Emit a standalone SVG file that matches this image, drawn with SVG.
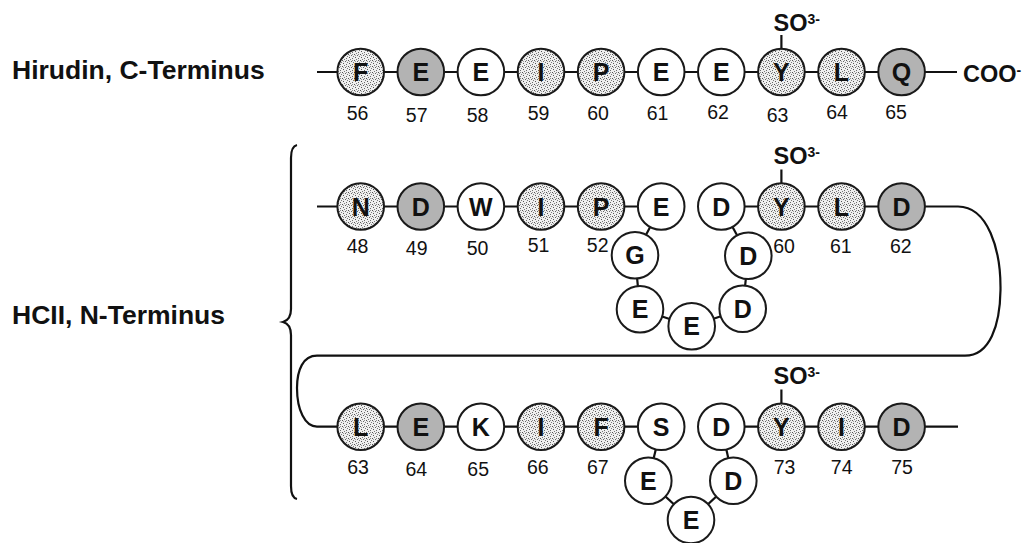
<svg xmlns="http://www.w3.org/2000/svg" width="1034" height="543" viewBox="0 0 1034 543">
  <defs>
    <!-- stippled fill for hydrophobic residues -->
    <pattern id="stipple" width="6" height="6" patternUnits="userSpaceOnUse">
      <rect width="6" height="6" fill="#efefef"/>
      <rect x="0" y="0" width="1" height="1" fill="#555"/>
      <rect x="3" y="1" width="1" height="1" fill="#666"/>
      <rect x="1" y="3" width="1" height="1" fill="#555"/>
      <rect x="4" y="4" width="1" height="1" fill="#6a6a6a"/>
      <rect x="5" y="2" width="1" height="1" fill="#7a7a7a"/>
      <rect x="2" y="5" width="1" height="1" fill="#7a7a7a"/>
      <rect x="4" y="0" width="1" height="1" fill="#909090"/>
      <rect x="1" y="1" width="1" height="1" fill="#a0a0a0"/>
    </pattern>
    <style>
      .res { stroke: #1a1a1a; stroke-width: 2; }
      .plain { fill: #ffffff; }
      .dots { fill: url(#stipple); }
      .acid { fill: #b3b3b3; }
      .aa { font-family: "Liberation Sans", Arial, sans-serif; font-weight: bold; font-size: 25px; fill: #111; text-anchor: middle; }
      .num { font-family: "Liberation Sans", Arial, sans-serif; font-size: 19.5px; fill: #111; text-anchor: middle; }
      .lbl { font-family: "Liberation Sans", Arial, sans-serif; font-weight: bold; font-size: 26.5px; fill: #111; }
      .grp { font-family: "Liberation Sans", Arial, sans-serif; font-weight: bold; font-size: 23.5px; fill: #111; }
      .sup { font-size: 14px; }
      .bond { stroke: #111; stroke-width: 2.2; fill: none; }
    </style>
  </defs>
  <rect width="1034" height="543" fill="#ffffff"/>

  <!-- side labels -->
  <text class="lbl" x="12" y="79">Hirudin, C-Terminus</text>
  <text class="lbl" x="12" y="324">HCII, N-Terminus</text>

  <!-- brace grouping the HCII segment -->
  <path class="bond" d="M297,145 C292.5,146 291,150 291,158 L291,309 C291,317 288.5,320.5 283,322 C288.5,323.5 291,327 291,335 L291,486 C291,494 292.5,498 297,499"/>

  <!-- connectors -->
  <g id="connectors" class="bond">
    <!-- Hirudin chain -->
    <line x1="317" y1="72" x2="901.6" y2="72"/>
    <line x1="901.6" y1="72" x2="957" y2="72"/>
    <line x1="781.4" y1="48" x2="781.4" y2="35"/>
    <!-- HCII upper chain -->
    <line x1="317" y1="206.5" x2="661.2" y2="206.5"/>
    <line x1="721.3" y1="206.5" x2="901.6" y2="206.5"/>
    <line x1="661.2" y1="206.5" x2="635" y2="255.3"/>
    <line x1="635" y1="255.3" x2="640" y2="309.3"/>
    <line x1="640" y1="309.3" x2="691.7" y2="326.3"/>
    <line x1="691.7" y1="326.3" x2="742.7" y2="308.7"/>
    <line x1="742.7" y1="308.7" x2="748.3" y2="255.7"/>
    <line x1="748.3" y1="255.7" x2="721.3" y2="206.5"/>
    <line x1="781.4" y1="183" x2="781.4" y2="169.5"/>
    <!-- turn between the two HCII rows -->
    <path d="M901.6,206.5 L958,206.5 C988,206.5 1001,250 1000.5,290 C1000,325 990,355.7 965,355.7 L317,355.7 C303,355.7 297,370 297,388 C297,410 305,426.7 317,426.7"/>
    <!-- HCII lower chain -->
    <line x1="317" y1="426.7" x2="661.2" y2="426.7"/>
    <line x1="721.3" y1="426.7" x2="958" y2="426.7"/>
    <line x1="661.2" y1="426.7" x2="648.3" y2="480.7"/>
    <line x1="648.3" y1="480.7" x2="691" y2="520"/>
    <line x1="691" y1="520" x2="733.3" y2="480.7"/>
    <line x1="733.3" y1="480.7" x2="721.3" y2="426.7"/>
    <line x1="781.4" y1="403.3" x2="781.4" y2="389.5"/>
  </g>

  <!-- sulfate and carboxylate groups -->
  <text class="grp" x="773.5" y="31">SO<tspan class="sup" dy="-7">3-</tspan></text>
  <text class="grp" x="773.5" y="163.5">SO<tspan class="sup" dy="-7">3-</tspan></text>
  <text class="grp" x="773.5" y="383.5">SO<tspan class="sup" dy="-7">3-</tspan></text>
  <text class="grp" x="963" y="81.7">COO<tspan class="sup" dy="-7">-</tspan></text>

  <!-- Hirudin residues 56-65 -->
  <g id="h56"><circle class="res dots" cx="360.7" cy="72" r="23.3"/><text class="aa" x="360.7" y="81">F</text><text class="num" x="357.5" y="120">56</text></g>
  <g id="h57"><circle class="res acid" cx="420.8" cy="72" r="23.3"/><text class="aa" x="420.8" y="81">E</text><text class="num" x="416.7" y="122">57</text></g>
  <g id="h58"><circle class="res plain" cx="480.9" cy="72" r="23.3"/><text class="aa" x="480.9" y="81">E</text><text class="num" x="477.5" y="122">58</text></g>
  <g id="h59"><circle class="res dots" cx="541" cy="72" r="23.3"/><text class="aa" x="541" y="81">I</text><text class="num" x="538.5" y="119.5">59</text></g>
  <g id="h60"><circle class="res dots" cx="601.1" cy="72" r="23.3"/><text class="aa" x="601.1" y="81">P</text><text class="num" x="598" y="120">60</text></g>
  <g id="h61"><circle class="res plain" cx="661.2" cy="72" r="23.3"/><text class="aa" x="661.2" y="81">E</text><text class="num" x="657.5" y="120">61</text></g>
  <g id="h62"><circle class="res plain" cx="721.3" cy="72" r="23.3"/><text class="aa" x="721.3" y="81">E</text><text class="num" x="718" y="118.5">62</text></g>
  <g id="h63"><circle class="res dots" cx="781.4" cy="72" r="23.3"/><text class="aa" x="781.4" y="81">Y</text><text class="num" x="777.5" y="122">63</text></g>
  <g id="h64"><circle class="res dots" cx="841.5" cy="72" r="23.3"/><text class="aa" x="841.5" y="81">L</text><text class="num" x="837" y="118.5">64</text></g>
  <g id="h65"><circle class="res acid" cx="901.6" cy="72" r="23.3"/><text class="aa" x="901.6" y="81">Q</text><text class="num" x="896" y="118.5">65</text></g>

  <!-- HCII residues 48-62 -->
  <g id="c48"><circle class="res dots" cx="360.7" cy="206.5" r="23.3"/><text class="aa" x="360.7" y="215.5">N</text><text class="num" x="357.5" y="253">48</text></g>
  <g id="c49"><circle class="res acid" cx="420.8" cy="206.5" r="23.3"/><text class="aa" x="420.8" y="215.5">D</text><text class="num" x="416.7" y="254.5">49</text></g>
  <g id="c50"><circle class="res plain" cx="480.9" cy="206.5" r="23.3"/><text class="aa" x="480.9" y="215.5">W</text><text class="num" x="477.5" y="254.5">50</text></g>
  <g id="c51"><circle class="res dots" cx="541" cy="206.5" r="23.3"/><text class="aa" x="541" y="215.5">I</text><text class="num" x="538.5" y="252">51</text></g>
  <g id="c52"><circle class="res dots" cx="601.1" cy="206.5" r="23.3"/><text class="aa" x="601.1" y="215.5">P</text><text class="num" x="597.7" y="252">52</text></g>
  <g id="c53"><circle class="res plain" cx="661.2" cy="206.5" r="23.3"/><text class="aa" x="661.2" y="215.5">E</text></g>
  <g id="c54"><circle class="res plain" cx="635" cy="255.3" r="23.3"/><text class="aa" x="635" y="264.3">G</text></g>
  <g id="c55"><circle class="res plain" cx="640" cy="309.3" r="23.3"/><text class="aa" x="640" y="318.3">E</text></g>
  <g id="c56"><circle class="res plain" cx="691.7" cy="326.3" r="23.3"/><text class="aa" x="691.7" y="335.3">E</text></g>
  <g id="c57"><circle class="res plain" cx="742.7" cy="308.7" r="23.3"/><text class="aa" x="742.7" y="317.7">D</text></g>
  <g id="c58"><circle class="res plain" cx="748.3" cy="255.7" r="23.3"/><text class="aa" x="748.3" y="264.7">D</text></g>
  <g id="c59"><circle class="res plain" cx="721.3" cy="206.5" r="23.3"/><text class="aa" x="721.3" y="215.5">D</text></g>
  <g id="c60"><circle class="res dots" cx="781.4" cy="206.5" r="23.3"/><text class="aa" x="781.4" y="215.5">Y</text><text class="num" x="784" y="252.7">60</text></g>
  <g id="c61"><circle class="res dots" cx="841.5" cy="206.5" r="23.3"/><text class="aa" x="841.5" y="215.5">L</text><text class="num" x="840.8" y="252.7">61</text></g>
  <g id="c62"><circle class="res acid" cx="901.6" cy="206.5" r="23.3"/><text class="aa" x="901.6" y="215.5">D</text><text class="num" x="900.8" y="252.7">62</text></g>

  <!-- HCII residues 63-75 -->
  <g id="c63"><circle class="res dots" cx="360.7" cy="426.7" r="23.3"/><text class="aa" x="360.7" y="435.7">L</text><text class="num" x="358" y="474">63</text></g>
  <g id="c64"><circle class="res acid" cx="420.8" cy="426.7" r="23.3"/><text class="aa" x="420.8" y="435.7">E</text><text class="num" x="416.3" y="476">64</text></g>
  <g id="c65"><circle class="res plain" cx="480.9" cy="426.7" r="23.3"/><text class="aa" x="480.9" y="435.7">K</text><text class="num" x="478.2" y="476">65</text></g>
  <g id="c66"><circle class="res dots" cx="541" cy="426.7" r="23.3"/><text class="aa" x="541" y="435.7">I</text><text class="num" x="537.8" y="474">66</text></g>
  <g id="c67"><circle class="res dots" cx="601.1" cy="426.7" r="23.3"/><text class="aa" x="601.1" y="435.7">F</text><text class="num" x="597.8" y="474">67</text></g>
  <g id="c68"><circle class="res plain" cx="661.2" cy="426.7" r="23.3"/><text class="aa" x="661.2" y="435.7">S</text></g>
  <g id="c69"><circle class="res plain" cx="648.3" cy="480.7" r="23.3"/><text class="aa" x="648.3" y="489.7">E</text></g>
  <g id="c70"><circle class="res plain" cx="691" cy="520" r="23.3"/><text class="aa" x="691" y="529">E</text></g>
  <g id="c71"><circle class="res plain" cx="733.3" cy="480.7" r="23.3"/><text class="aa" x="733.3" y="489.7">D</text></g>
  <g id="c72"><circle class="res plain" cx="721.3" cy="426.7" r="23.3"/><text class="aa" x="721.3" y="435.7">D</text></g>
  <g id="c73"><circle class="res dots" cx="781.4" cy="426.7" r="23.3"/><text class="aa" x="781.4" y="435.7">Y</text><text class="num" x="784.5" y="474">73</text></g>
  <g id="c74"><circle class="res dots" cx="841.5" cy="426.7" r="23.3"/><text class="aa" x="841.5" y="435.7">I</text><text class="num" x="841.7" y="474">74</text></g>
  <g id="c75"><circle class="res acid" cx="901.6" cy="426.7" r="23.3"/><text class="aa" x="901.6" y="435.7">D</text><text class="num" x="902" y="474">75</text></g>
</svg>
